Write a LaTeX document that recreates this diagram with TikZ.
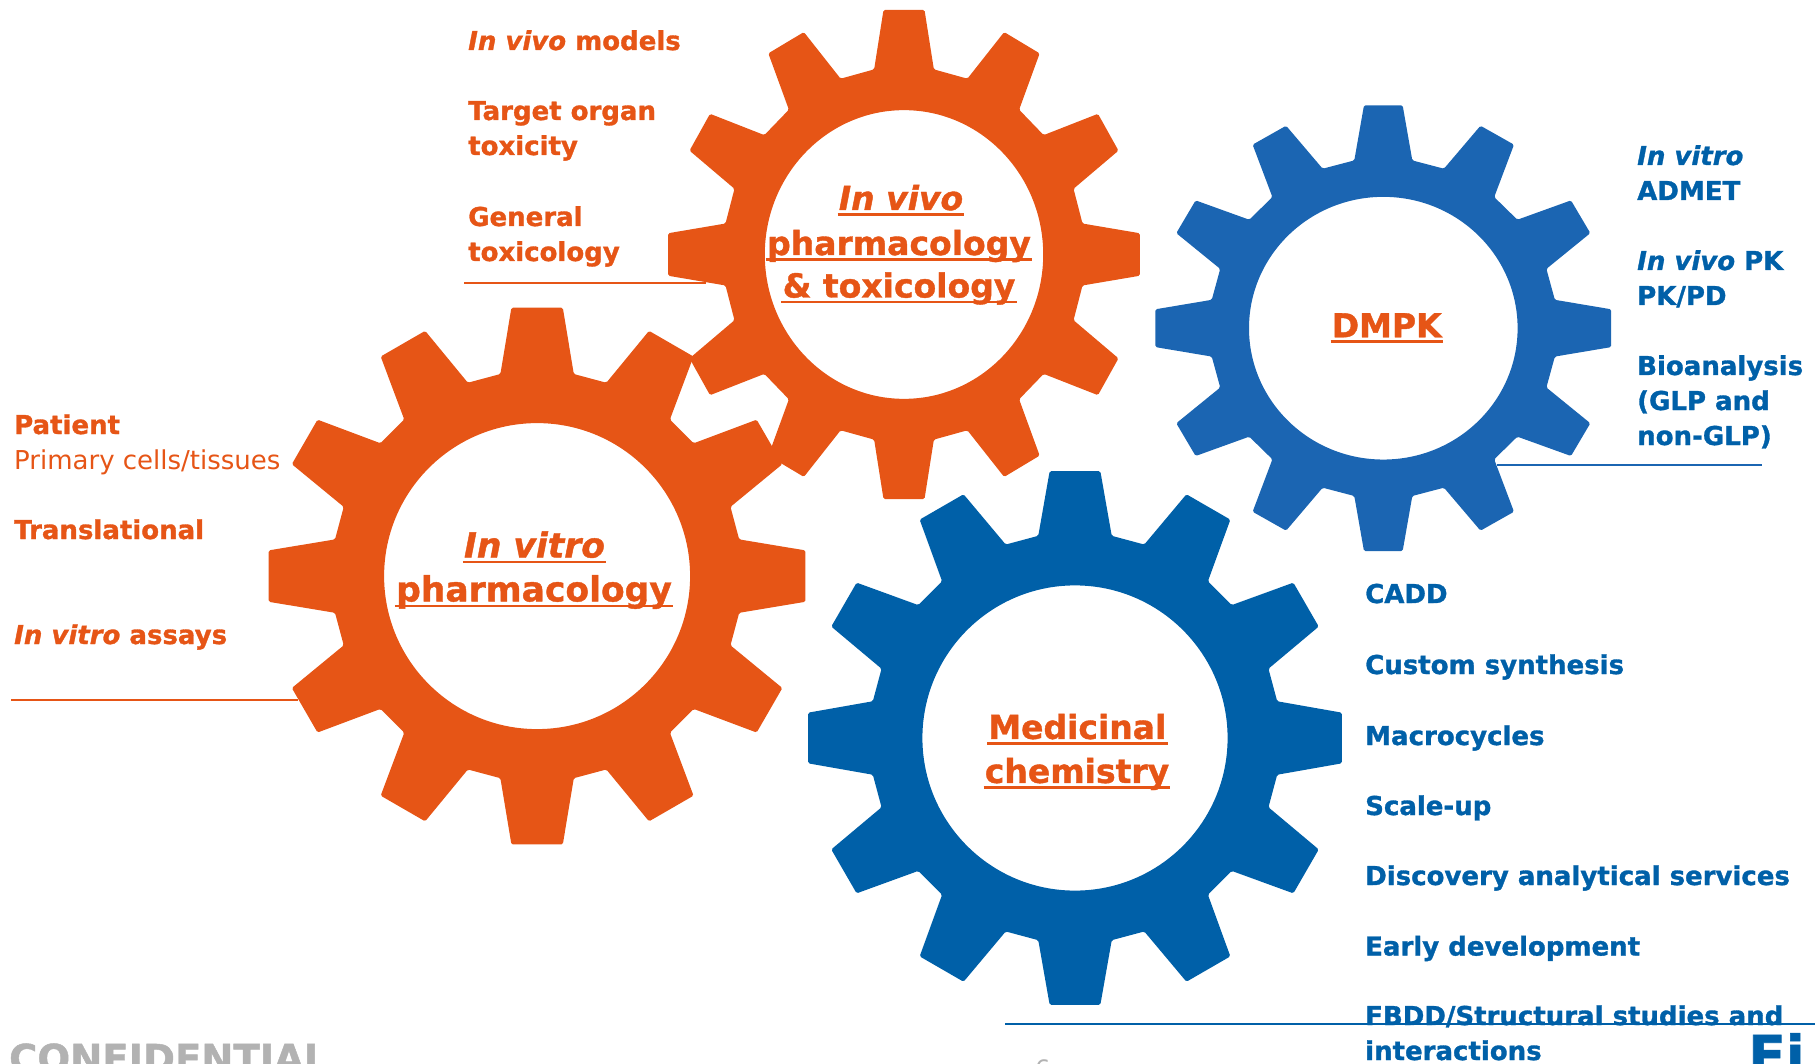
\documentclass[tikz,border=0pt]{standalone}
\usepackage{fontspec}
\setmainfont{DejaVu Sans}[
  BoldFeatures={FakeBold=1.2},
  BoldItalicFeatures={FakeBold=1.2}]
\usetikzlibrary{calc}

\definecolor{gearorange}{RGB}{230,85,22}
\definecolor{chemblue}{RGB}{0,96,168}
\definecolor{dmpkblue}{RGB}{27,101,178}
\definecolor{footgray}{RGB}{178,178,178}

% #1 colour, #2/#3 centre, #4 vertical stretch, #5 tip radius,
% #6 root radius, #7 hole radius, #8 tip half-angle, #9 root half-angle
\newcommand{\gearshape}[9]{%
  \begin{scope}[shift={(#2,#3)},yscale=#4]
    \fill[#1,even odd rule,rounded corners=1.5pt]
      (#8:#5)
      \foreach \a in {0,30,...,300}{
        -- (\a+#9:#6) -- (\a+30-#9:#6) -- (\a+30-#8:#5) -- (\a+30+#8:#5)}
      -- (330+#9:#6) -- (360-#9:#6) -- (-#8:#5) -- cycle
      (0,0) circle[radius=#7];
  \end{scope}}

\tikzset{
  item/.style={anchor=base west, inner sep=0pt,
    font=\fontsize{26}{31}\selectfont\bfseries},
  orangeitem/.style={item, text=gearorange},
  blueitem/.style={item, text=chemblue},
  hub/.style={anchor=base, inner sep=0pt, text=gearorange,
    font=\fontsize{33}{40}\selectfont\bfseries},
  bighub/.style={hub, font=\fontsize{34.5}{40}\selectfont\bfseries},
  ul/.style={line width=2.6pt, gearorange},
  rulerline/.style={line width=2pt},
}

\newcommand{\underlinenode}[1]{%
  \draw[ul] ($(#1.base west)+(-1,4.5)$) -- ($(#1.base east)+(1,4.5)$);}

\begin{document}
\begin{tikzpicture}[x=1pt,y=-1pt]
\useasboundingbox (0,0) rectangle (1815,1064);

% separator rules under the lists
\coordinate (tl-a) at (464,283);   \coordinate (tl-b) at (706,283);
\coordinate (lf-a) at (11,700);    \coordinate (lf-b) at (298,700);
\coordinate (dm-a) at (1497,465);  \coordinate (dm-b) at (1762,465);
\coordinate (mc-a) at (1005,1024); \coordinate (mc-b) at (1815,1024);
\draw[rulerline, gearorange] (tl-a) -- (tl-b);
\draw[rulerline, gearorange] (lf-a) -- (lf-b);
\draw[rulerline, dmpkblue] (dm-a) -- (dm-b);
\draw[rulerline, chemblue] (mc-a) -- (mc-b);

% the four gears
\gearshape{gearorange}{904}{254.5}{1.037}{236.7}{181}{139.2}{4.97}{9.5}
\gearshape{gearorange}{537.1}{576.1}{1.0}{269.6}{205.4}{153}{5.47}{10.3}
\gearshape{dmpkblue}{1383.3}{328.2}{0.978}{228.7}{174}{134.3}{4.85}{9.6}
\gearshape{chemblue}{1075}{738}{1.0}{268}{205.5}{152.6}{5.43}{10.3}

% gear titles
\node[hub] (tg1) at (901,210) {\textit{In vivo}};
\node[hub] (tg2) at (899,255) {pharmacology};
\node[hub] (tg3) at (899,297.5) {\& toxicology};
\underlinenode{tg1}\underlinenode{tg2}\underlinenode{tg3}

\node[bighub] (lg1) at (534.5,557.5) {\textit{In vitro}};
\node[bighub] (lg2) at (534,601.4) {pharmacology};
\underlinenode{lg1}\underlinenode{lg2}

\node[hub] (dg) at (1386.7,337.3) {DMPK};
\underlinenode{dg}

\node[hub] (mg1) at (1077.3,738.9) {Medicinal};
\node[hub] (mg2) at (1077,782.9) {chemistry};
\underlinenode{mg1}\underlinenode{mg2}

% in vivo pharmacology & toxicology
\node[orangeitem] (tv1) at (468,50) {\textit{In vivo} models};
\node[orangeitem] (tv2) at (468,120) {Target organ};
\node[orangeitem] (tv3) at (468,155) {toxicity};
\node[orangeitem] (tv4) at (468,226) {General};
\node[orangeitem] (tv5) at (468,261) {toxicology};

% in vitro pharmacology
\node[orangeitem] (pv1) at (14,434) {Patient};
\node[orangeitem, font=\fontsize{26}{31}\selectfont] (pv2) at (14,469) {Primary cells/tissues};
\node[orangeitem] (pv3) at (14,539) {Translational};
\node[orangeitem] (pv4) at (14,644) {\textit{In vitro} assays};

% DMPK
\node[blueitem] (dm1) at (1637,165) {\textit{In vitro}};
\node[blueitem] (dm2) at (1637,200) {ADMET};
\node[blueitem] (dm3) at (1637,270) {\textit{In vivo} PK};
\node[blueitem] (dm4) at (1637,305) {PK/PD};
\node[blueitem] (dm5) at (1637,375) {Bioanalysis};
\node[blueitem] (dm6) at (1637,410) {(GLP and};
\node[blueitem] (dm7) at (1637,445) {non-GLP)};

% medicinal chemistry
\node[blueitem] (mc1) at (1365,603) {CADD};
\node[blueitem] (mc2) at (1365,674) {Custom synthesis};
\node[blueitem] (mc3) at (1365,745) {Macrocycles};
\node[blueitem] (mc4) at (1365,815) {Scale-up};
\node[blueitem] (mc5) at (1365,885) {Discovery analytical services};
\node[blueitem] (mc6) at (1365,955.5) {Early development};
\node[blueitem] (mc7) at (1365,1025) {FBDD/Structural studies and};
\node[blueitem] (mc8) at (1365,1060) {interactions};

% footer
\node[anchor=base west, inner sep=0pt, text=footgray,
      font=\fontsize{38.5}{42}\selectfont\bfseries] (conf) at (9,1072) {CONFIDENTIAL};
\node[anchor=base west, inner sep=0pt, text=footgray,
      font=\fontsize{24}{28}\selectfont] (pg) at (1035,1077) {6};
\node[anchor=base west, inner sep=0pt, text=chemblue,
      font=\fontsize{55}{60}\selectfont\bfseries] (logo) at (1748,1075) {Ei};
\end{tikzpicture}
\end{document}
